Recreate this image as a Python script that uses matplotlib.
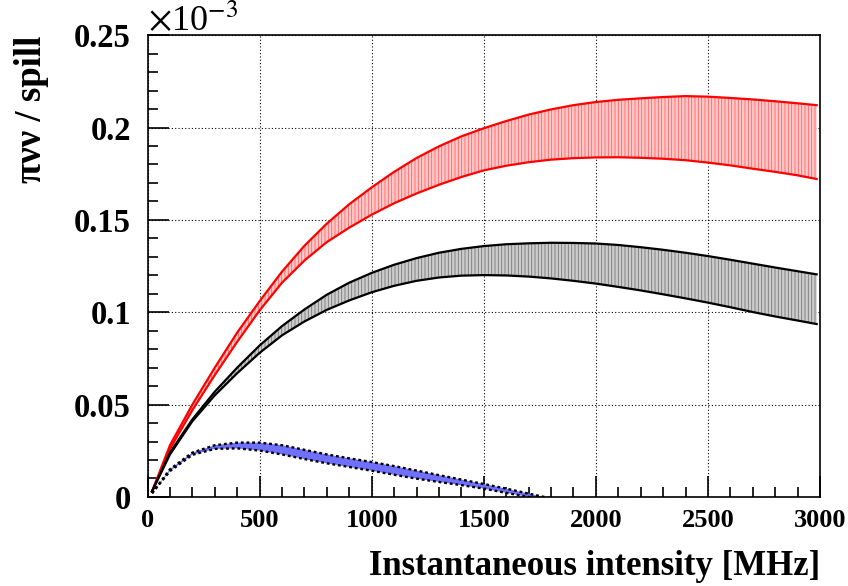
import numpy as np
import matplotlib
matplotlib.use('Agg')
import matplotlib.pyplot as plt
from matplotlib.ticker import MultipleLocator

# data (values in units of 1e-3 per spill)
x_rb = [20, 100, 200, 300, 400, 500, 600, 700, 800, 900, 1000, 1100, 1200, 1300, 1400, 1500,
        1600, 1700, 1800, 1900, 2000, 2100, 2200, 2300, 2400, 2500, 2600, 2700, 2800, 2900, 2985]
red_hi = [0.003, 0.028, 0.050, 0.070, 0.089, 0.106, 0.122, 0.136, 0.148, 0.1585, 0.1676, 0.1760,
          0.1835, 0.1898, 0.1952, 0.1996, 0.2035, 0.2070, 0.2098, 0.2121, 0.2138, 0.2150, 0.2158,
          0.2165, 0.2170, 0.2167, 0.2160, 0.2152, 0.2142, 0.2131, 0.2121]
red_lo = [0.003, 0.026, 0.047, 0.066, 0.084, 0.101, 0.1160, 0.1280, 0.1380, 0.1458, 0.1528, 0.1590,
          0.1643, 0.1690, 0.1732, 0.1768, 0.1793, 0.1812, 0.1826, 0.1834, 0.1838, 0.1839, 0.1836,
          0.1831, 0.1823, 0.1810, 0.1795, 0.1777, 0.1760, 0.1741, 0.1721]
blk_hi = [0.003, 0.024, 0.042, 0.057, 0.070, 0.082, 0.0925, 0.1015, 0.1095, 0.1160, 0.1213, 0.1257,
          0.1293, 0.1322, 0.1343, 0.1358, 0.1368, 0.1373, 0.1376, 0.1375, 0.1372, 0.1364, 0.1352,
          0.1338, 0.1322, 0.1304, 0.1284, 0.1263, 0.1242, 0.1222, 0.1205]
blk_lo = [0.003, 0.023, 0.041, 0.055, 0.067, 0.078, 0.0875, 0.0950, 0.1013, 0.1064, 0.1108, 0.1143,
          0.1170, 0.1188, 0.1198, 0.1201, 0.1199, 0.1193, 0.1183, 0.1170, 0.1155, 0.1137, 0.1118,
          0.1097, 0.1075, 0.1052, 0.1027, 0.1001, 0.0977, 0.0955, 0.0936]

x_blue = [20, 100, 200, 300, 400, 500, 600, 700, 800, 900, 1000, 1100, 1200, 1300, 1400, 1500,
          1600, 1700, 1800]
blue_hi = [0.002, 0.015, 0.0240, 0.0280, 0.0294, 0.0294, 0.0280, 0.0255, 0.0230, 0.0209, 0.0189,
           0.0167, 0.0143, 0.0118, 0.0094, 0.0070, 0.0045, 0.0018, -0.0008]
blue_lo = [0.002, 0.014, 0.0228, 0.0260, 0.0263, 0.0251, 0.0230, 0.0205, 0.0182, 0.0162, 0.0142,
           0.0120, 0.0099, 0.0081, 0.0064, 0.0045, 0.0022, 0.0000, -0.003]

plt.rcParams['font.family'] = ['Liberation Serif', 'DejaVu Serif']
plt.rcParams['mathtext.fontset'] = 'stix'
plt.rcParams['hatch.linewidth'] = 0.6

fig = plt.figure(figsize=(8.48, 5.86), dpi=100)
ax = fig.add_axes([0.174, 0.152, 0.793, 0.788])

ax.fill_between(x_rb, red_lo, red_hi, facecolor='#ffcaca', edgecolor='#ff6060',
                hatch='|||||', lw=0, zorder=2)
ax.plot(x_rb, red_hi, color='red', lw=1.6, zorder=3)
ax.plot(x_rb, red_lo, color='red', lw=1.6, zorder=3)

ax.fill_between(x_rb, blk_lo, blk_hi, facecolor='#cccccc', edgecolor='#777777',
                hatch='|||||', lw=0, zorder=2)
ax.plot(x_rb, blk_hi, color='black', lw=1.6, zorder=3)
ax.plot(x_rb, blk_lo, color='black', lw=1.6, zorder=3)

ax.fill_between(x_blue, blue_lo, blue_hi, facecolor='#7070ff', edgecolor='none', zorder=2)
ax.plot(x_blue, blue_hi, color='black', lw=1.7, ls=(0, (1.2, 1.2)), zorder=3)
ax.plot(x_blue, blue_lo, color='black', lw=1.7, ls=(0, (1.2, 1.2)), zorder=3)

ax.set_xlim(0, 3000)
ax.set_ylim(0, 0.25)
ax.xaxis.set_major_locator(MultipleLocator(500))
ax.xaxis.set_minor_locator(MultipleLocator(100))
ax.yaxis.set_minor_locator(MultipleLocator(0.01))
ax.set_yticks([0, 0.05, 0.1, 0.15, 0.2, 0.25])
ax.set_yticklabels(['0', '0.05', '0.1', '0.15', '0.2', '0.25'])
ax.grid(True, which='major', ls=(0, (1, 2)), color='black', lw=0.8)
ax.set_axisbelow(True)

ax.tick_params(which='both', direction='in', top=False, right=False, width=1.2)
ax.tick_params(which='major', length=15)
ax.tick_params(axis='y', which='major', pad=12, labelsize=23.5)
ax.tick_params(axis='x', which='major', pad=9, labelsize=19)
ax.tick_params(which='minor', length=7.5)
for lab in ax.get_xticklabels() + ax.get_yticklabels():
    lab.set_fontweight('bold')
for s in ax.spines.values():
    s.set_linewidth(1.2)

ax.set_xlabel('Instantaneous intensity [MHz]', fontsize=25, fontweight='bold',
              loc='right', labelpad=12.5)
ax.set_ylabel('πνν / spill', fontsize=26.5, fontweight='bold', loc='top', labelpad=18)
ax.text(0.0, 0.992, r'$\times$10$^{-3}$', transform=ax.transAxes, fontsize=26,
        ha='left', va='bottom')

fig.savefig('out.png', dpi=100)
